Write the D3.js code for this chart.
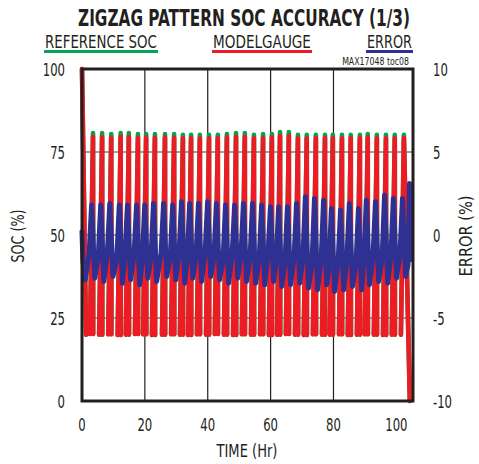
<!DOCTYPE html>
<html><head><meta charset="utf-8">
<script src="https://cdn.jsdelivr.net/npm/d3@7"></script>
<style>
html,body{margin:0;padding:0;background:#fff;}
svg text{font-family:"Liberation Sans Narrow","DejaVu Sans Condensed","Roboto Condensed","Liberation Sans",Arial,sans-serif;fill:#231f20;}
</style></head>
<body><svg id="c" width="479" height="464"></svg>
<script>
// ---- data ----
const title = "ZIGZAG PATTERN SOC ACCURACY (1/3)";
const legendLabels = ["REFERENCE SOC", "MODELGAUGE", "ERROR"];
const note = "MAX17048 toc08";
const xTicks = [0, 20, 40, 60, 80, 100];
const yTicksLeft = [0, 25, 50, 75, 100];
const yTicksRight = [-10, -5, 0, 5, 10];

// cycle peak times (Hr)
const peakTime = [3.5,6.4,9.3,12.3,14.9,17.8,20.4,23.2,26.4,29.3,32.1,34.7,37.5,40.4,43.2,46.1,49.0,51.8,
                  54.7,57.6,60.4,63.0,65.8,68.7,71.5,74.4,77.3,79.8,82.7,85.5,88.4,90.9,93.8,96.7,99.5,102.4];
// reference SOC peaks (%)
const refPeak = [80.7,80.7,80.4,80.7,80.7,80.4,80.4,80.4,80.4,80.4,80.2,80.2,80.2,80.2,80.2,80.4,80.7,80.7,
                 80.2,80.4,80.4,81.0,81.0,80.2,80.2,80.2,80.2,80.2,80.2,80.2,80.2,80.4,80.2,80.2,80.2,80.2];
// ModelGauge SOC peaks (%)
const gaugePeak = [79.6,79.5,79.3,79.6,79.6,79.3,79.4,79.3,79.4,79.3,79.2,79.2,79.1,79.2,79.2,79.4,79.6,79.6,
                   79.2,79.3,79.4,79.8,79.9,79.2,79.1,79.2,79.2,79.2,79.1,79.2,79.2,79.4,79.2,79.1,79.2,79.2];
// SOC troughs (%)
const gaugeTrough = [20.2,20.0,20.1,19.9,20.0,20.2,20.1,19.9,20.0,20.1,20.0,19.9,20.1,20.0,20.2,20.0,19.9,20.1,
                     20.0,20.1,19.9,20.0,20.2,20.0,19.9,20.1,20.0,20.0,20.1,19.9,20.0,20.1,20.0,19.9,20.0,20.0];
// start (full charge) and end (final discharge)
const headTime = [0, 1.3], headSOC = [100, 20];
const tailTime = [104.3], tailSOC = [0];

// error (%) per cycle: high, low and shoulder
const errHigh = [1.8,1.8,1.9,1.8,1.8,1.8,1.8,1.9,1.9,1.8,2.0,1.9,1.9,2.0,1.9,1.8,1.8,1.9,
                 1.9,1.8,1.7,1.7,1.7,1.9,2.3,2.2,2.1,1.6,1.5,1.9,1.6,2.1,2.0,2.4,2.2,2.2];
const errLow = [-2.6,-2.8,-2.5,-2.9,-2.7,-3.0,-2.6,-2.8,-2.5,-2.7,-2.9,-2.6,-2.8,-2.5,-2.7,-2.9,-2.6,-2.8,
                -2.9,-3.0,-2.8,-3.1,-3.0,-2.9,-3.2,-3.3,-3.0,-3.4,-3.3,-3.1,-3.3,-3.0,-2.8,-2.9,-2.6,-2.5];
const errShoulder = [-1.2,-1.4,-1.1,-1.5,-1.3,-1.2,-1.6,-1.3,-1.1,-1.4,-1.2,-1.5,-1.3,-1.1,-1.4,-1.6,-1.2,-1.3,
                     -1.4,-1.5,-1.2,-1.6,-1.7,-1.4,-1.5,-1.8,-1.6,-1.9,-1.7,-1.5,-1.8,-1.6,-1.4,-1.5,-1.3,-1.2];
const errHeadTime = [0, 0.3, 1.0], errHeadVal = [0.2, -1.6, -2.7];
const errTailTime = [103.7, 104.2, 104.3], errTailVal = [-1.8, 3.1, -1.5];

// ---- chart ----
const svg = d3.select("#c");
const L = 82, R = 413, T = 69, B = 401;
const x = d3.scaleLinear().domain([0, 105.3]).range([L, R]);
const y = d3.scaleLinear().domain([0, 100]).range([B, T]);
const yR = d3.scaleLinear().domain([-10, 10]).range([B, T]);
const RED = "#ed1c24", GREEN = "#00a651", BLUE = "#2e3192";

// text helper: horizontally condensed text (scale about its anchor point)
function addText(px, py, str, o) {
  o = o || {};
  const g = svg.append("g");
  const t = g.append("text").attr("font-size", o.size || 18.5)
    .attr("font-weight", o.weight || "normal")
    .attr("text-anchor", o.anchor || "start")
    .attr("dy", o.dy || null).text(str);
  let sx = o.sx || 0.7;
  if (o.width) sx = o.width / t.node().getComputedTextLength();
  g.attr("transform", `translate(${px},${py})` + (o.rotate ? ` rotate(${o.rotate})` : "") + ` scale(${sx},1)`);
  return t;
}

// grid
svg.append("g").selectAll("line").data(yTicksLeft.filter(d => d > 0 && d < 100)).join("line")
  .attr("x1", L).attr("x2", R).attr("y1", d => y(d)).attr("y2", d => y(d))
  .attr("stroke", "#7f7f7f").attr("stroke-width", 1.5);
svg.append("g").selectAll("line").data(xTicks.filter(d => d > 0 && d < 100)).join("line")
  .attr("y1", T).attr("y2", B).attr("x1", d => x(d)).attr("x2", d => x(d))
  .attr("stroke", "#231f20").attr("stroke-width", 1.2);

// build SOC series
function socSeries(peaks) {
  const pts = [];
  headTime.forEach((t, i) => pts.push({t, v: headSOC[i]}));
  pts.push(null);
  peakTime.forEach((tp, i) => {
    pts.push({t: tp - 0.95, v: gaugeTrough[i]});
    pts.push({t: tp, v: peaks[i]});
    if (i === peakTime.length - 1) {
      tailTime.forEach((t, k) => pts.push({t, v: tailSOC[k]}));
    } else {
      pts.push({t: tp + 0.05, v: gaugeTrough[i]});
      pts.push(null);
    }
  });
  return pts;
}
const line = d3.line().defined(d => d !== null).x(d => x(d.t)).y(d => y(d.v));
const lineR = d3.line().x(d => x(d.t)).y(d => yR(d.v));

const plot = svg.append("g");
plot.append("path").attr("d", line(socSeries(refPeak))).attr("fill", "none")
  .attr("stroke", GREEN).attr("stroke-width", 4.6).attr("stroke-linejoin", "round").attr("stroke-linecap", "round");
plot.append("path").attr("d", line(socSeries(gaugePeak))).attr("fill", "none")
  .attr("stroke", RED).attr("stroke-width", 4.6).attr("stroke-linejoin", "round").attr("stroke-linecap", "round");

const errPts = [];
errHeadTime.forEach((t, i) => errPts.push({t, v: errHeadVal[i]}));
peakTime.forEach((tp, i) => {
  errPts.push({t: tp - 1.25, v: errShoulder[i]});
  errPts.push({t: tp - 0.45, v: errHigh[i]});
  errPts.push({t: tp + 0.55, v: errLow[i]});
});
errTailTime.forEach((t, i) => errPts.push({t, v: errTailVal[i]}));
plot.append("path").attr("d", lineR(errPts)).attr("fill", "none")
  .attr("stroke", BLUE).attr("stroke-width", 5).attr("stroke-linejoin", "round").attr("stroke-linecap", "round");

// frame
svg.append("rect").attr("x", L).attr("y", T).attr("width", R - L).attr("height", B - T)
  .attr("fill", "none").attr("stroke", "#231f20").attr("stroke-width", 3);

// tick labels
yTicksLeft.forEach(d => addText(65, y(d), d, {anchor: "end", dy: "0.36em"}));
yTicksRight.forEach(d => addText(433, yR(d), d, {anchor: "start", dy: "0.36em"}));
xTicks.forEach(d => addText(x(d), 431, d, {anchor: "middle"}));

// axis titles
addText(247, 457, "TIME (Hr)", {anchor: "middle", width: 61});
addText(24, 236, "SOC (%)", {anchor: "middle", rotate: -90, width: 53});
addText(472, 236, "ERROR (%)", {anchor: "middle", rotate: -90, width: 81});

// title
addText(244, 26, title, {anchor: "middle", size: 23, weight: "bold", width: 332});

// legend
const legX = [45, 213, 367], legW = [112, 98, 45], legC = [GREEN, RED, BLUE];
legendLabels.forEach((lab, i) => {
  addText(legX[i], 48, lab, {size: 17.5, width: legW[i]});
  svg.append("rect").attr("x", legX[i] - 1).attr("y", 50).attr("width", legW[i] + 2).attr("height", 3).attr("fill", legC[i]);
});
addText(409, 65, note, {anchor: "end", size: 10.5, width: 67});
</script></body></html>
